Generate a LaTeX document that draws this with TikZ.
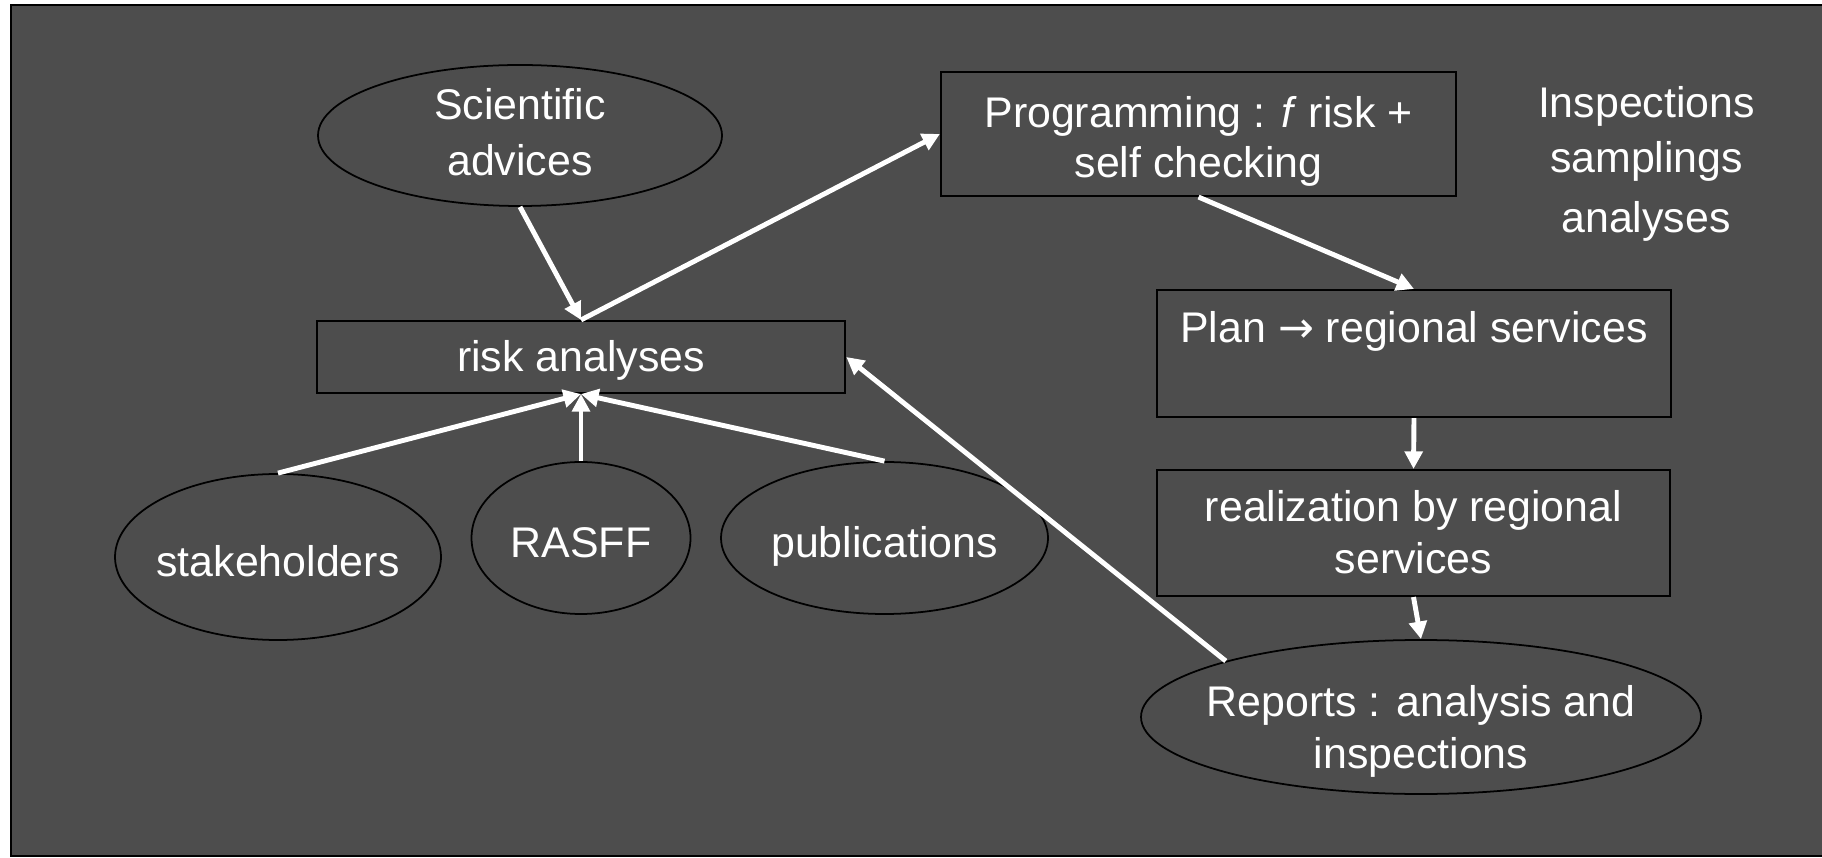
\documentclass[tikz,border=0pt]{standalone}
\usepackage{fontspec}
\setmainfont{Liberation Sans}
\newfontfamily\arrowfont{DejaVu Sans}
\usetikzlibrary{shapes.geometric,arrows.meta}
\definecolor{slidegray}{HTML}{4D4D4D}
% struts that fix where the text sits in its shape
\newcommand{\topfix}[1]{\rule{0pt}{#1}}
\newcommand{\botfix}[1]{\rule[-#1]{0pt}{#1}}

\begin{document}
\begin{tikzpicture}[>={Triangle[length=5pt,width=5pt]},
  every node/.style={text=white,font=\fontsize{12.2}{14.8}\selectfont,align=center,inner sep=0pt},
  oval/.style={ellipse,draw=black,line width=0.5pt,inner xsep=-0.3cm,inner ysep=-0.2cm},
  box/.style={rectangle,draw=black,line width=0.6pt},
  flow/.style={->,white,line width=1.4pt}]
  \useasboundingbox (0,0) rectangle (18.22,-8.58);
  \fill[white] (0,0) rectangle (18.22,-8.58);
  \draw[line width=0.6pt,fill=slidegray] (0.11,-0.05) rectangle (18.40,-8.56);

  % sources
  \node[oval,minimum width=4.04cm,minimum height=1.41cm] (sci) at (5.20,-1.355)
    {\topfix{0.44cm}Scientific\\[0.04cm]advices\botfix{0.196cm}};
  \node[box,minimum width=5.285cm,minimum height=0.72cm] (risk) at (5.81,-3.57)
    {\topfix{0.40cm}risk analyses\botfix{0.106cm}};
  \node[oval,minimum width=3.26cm,minimum height=1.66cm] (stake) at (2.78,-5.57)
    {\topfix{0.50cm}stakeholders\botfix{0.10cm}};
  \node[oval,minimum width=2.19cm,minimum height=1.52cm] (rasff) at (5.81,-5.38)
    {\topfix{0.50cm}RASFF\botfix{0.10cm}};
  \node[oval,minimum width=3.27cm,minimum height=1.52cm] (pub) at (8.845,-5.38)
    {\topfix{0.50cm}publications\botfix{0.10cm}};

  % programming chain
  \node[box,minimum width=5.15cm,minimum height=1.24cm] (prog) at (11.985,-1.34)
    {\topfix{0.47cm}Programming : \textit{f} risk +\\[-0.02cm]self checking\botfix{0.097cm}};
  \node[box,minimum width=5.135cm,minimum height=1.27cm] (plan) at (14.14,-3.535)
    {\topfix{0.40cm}Plan {\arrowfont →} regional services\botfix{0.61cm}};
  \node[box,minimum width=5.13cm,minimum height=1.26cm] (real) at (14.135,-5.33)
    {\topfix{0.40cm}realization by regional\\services\botfix{0.11cm}};
  \node[oval,minimum width=5.60cm,minimum height=1.54cm] (rep) at (14.21,-7.17)
    {\topfix{0.62cm}Reports : analysis and\\inspections\botfix{0.11cm}};

  \node[anchor=base] (insp1) at (16.465,-1.18) {Inspections};
  \node[anchor=base] (insp2) at (16.465,-1.725) {samplings};
  \node[anchor=base] (insp3) at (16.46,-2.33) {analyses};

  \draw[flow] (sci.south) -- (risk.north);
  \draw[flow] (risk.north) -- (prog.west);
  \draw[flow] (prog.south) -- (plan.north);
  \draw[flow] (plan.south) -- (real.north);
  \draw[flow] (real.south) -- (rep.north);
  \draw[flow] (rep.164.6) -- (risk.east);
  \foreach \src in {stake,rasff,pub}
    \draw[flow] (\src.north) -- (risk.south);
\end{tikzpicture}
\end{document}
